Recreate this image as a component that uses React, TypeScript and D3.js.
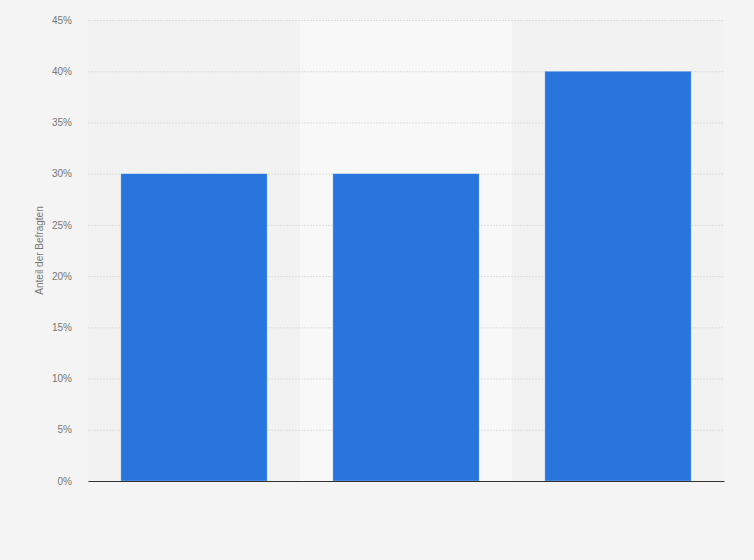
import React, { useRef, useEffect } from 'react';
import * as d3 from 'd3';

const categories = ['c1', 'c2', 'c3'];
const categoryLabels = ['', '', ''];
const values = [30, 30, 40];
const yTicks = [0, 5, 10, 15, 20, 25, 30, 35, 40, 45];
const yLabel = 'Anteil der Befragten';

const App: React.FC = () => {
  const ref = useRef<SVGSVGElement | null>(null);

  useEffect(() => {
    if (!ref.current) return;
    const svg = d3.select(ref.current);
    svg.selectAll('*').remove();

    const width = 754;
    const height = 560;
    const margin = { top: 20, right: 30, bottom: 79, left: 88 };

    svg.append('rect')
      .attr('width', width)
      .attr('height', height)
      .attr('fill', '#f4f4f4');

    const x = d3.scaleBand<string>()
      .domain(categories)
      .range([margin.left, width - margin.right])
      .paddingInner(0.31)
      .paddingOuter(0.155);

    const y = d3.scaleLinear()
      .domain([0, 45])
      .range([height - margin.bottom, margin.top]);

    // alternating band backgrounds
    const step = x.step();
    categories.forEach((c, i) => {
      const left = margin.left + i * step;
      svg.append('rect')
        .attr('x', left)
        .attr('y', margin.top)
        .attr('width', step)
        .attr('height', y(0) - margin.top)
        .attr('fill', i % 2 === 1 ? '#f8f8f8' : '#f2f2f2');
    });

    // grid lines + tick labels
    const yAxis = svg.append('g')
      .attr('transform', `translate(${margin.left},0)`)
      .call(d3.axisLeft(y).tickValues(yTicks).tickFormat(d => `${d}%`).tickSize(0).tickPadding(16));
    yAxis.select('.domain').remove();
    yAxis.selectAll('text')
      .attr('font-family', 'Arial, "Liberation Sans", sans-serif')
      .attr('font-size', 10)
      .attr('fill', '#777');
    yAxis.selectAll('.tick line')
      .attr('x2', width - margin.right - margin.left)
      .attr('stroke', '#dcdcdc')
      .attr('stroke-dasharray', '2,1');

    // bars
    svg.append('g')
      .selectAll('rect')
      .data(values)
      .join('rect')
      .attr('x', (_, i) => x(categories[i])!)
      .attr('y', d => y(d))
      .attr('width', x.bandwidth())
      .attr('height', d => y(0) - y(d))
      .attr('fill', '#2876dd')
      .attr('stroke', '#ffffff')
      .attr('stroke-opacity', 0.5)
      .attr('stroke-width', 0.6);

    // x axis
    const xAxis = svg.append('g')
      .attr('transform', `translate(0,${y(0)})`)
      .call(d3.axisBottom(x).tickSize(0).tickFormat((_, i) => categoryLabels[i]));
    xAxis.select('.domain')
      .attr('stroke', '#333')
      .attr('stroke-width', 1.2);

    // y label
    svg.append('text')
      .attr('transform', `translate(43,${(margin.top + y(0)) / 2}) rotate(-90)`)
      .attr('text-anchor', 'middle')
      .attr('font-family', 'Arial, "Liberation Sans", sans-serif')
      .attr('font-size', 10)
      .attr('fill', '#777')
      .text(yLabel);
  }, []);

  return (
    <svg ref={ref} width={754} height={560} style={{ position: 'absolute', left: 0, top: 0 }} />
  );
};

export default App;
